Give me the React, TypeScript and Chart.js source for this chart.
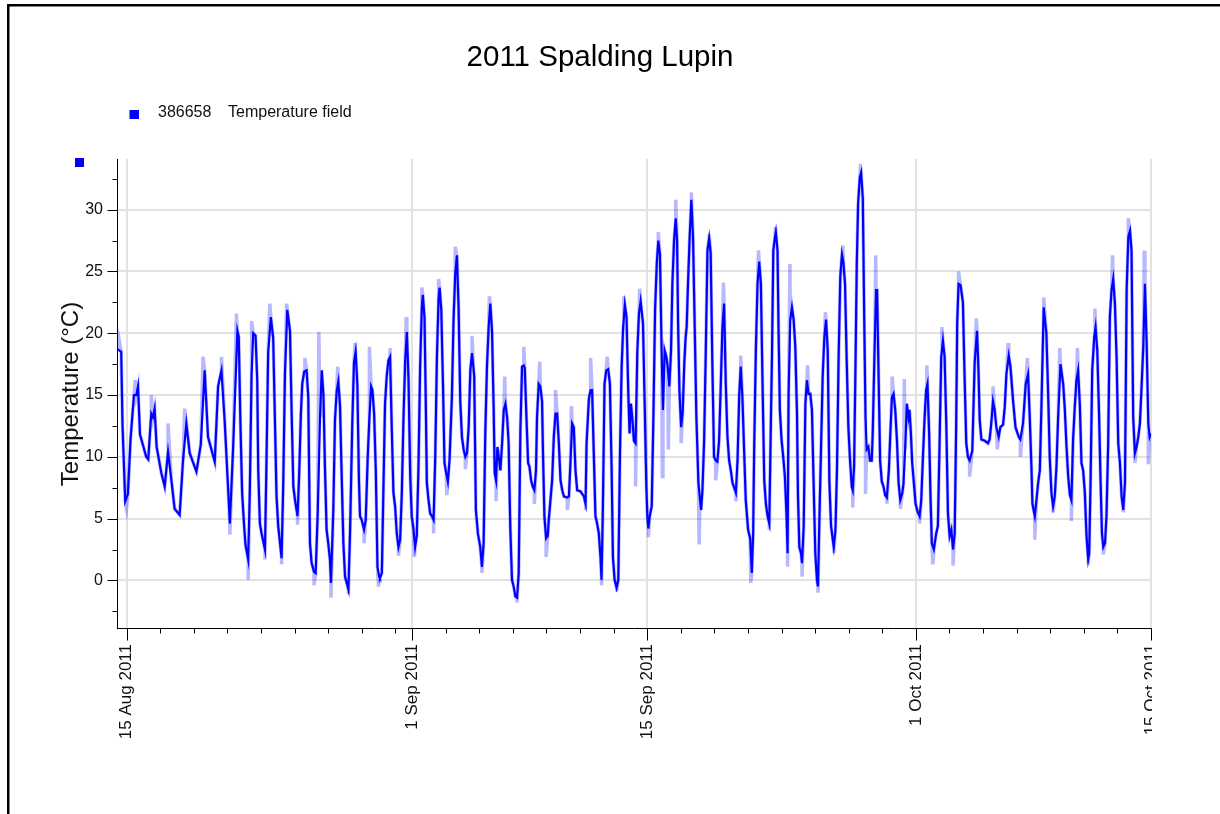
import React, { useEffect, useRef } from "react";
import { Chart, registerables } from "chart.js";

Chart.register(...registerables);

const TITLE = "2011 Spalding Lupin";
const SERIES_ID = "386658";
const SERIES_NAME = "Temperature field";
const Y_TITLE = "Temperature (°C)";

// x values are days since 15 Aug 2011 00:00
const majorTickDays = [0, 17, 31, 47, 61];
const majorTickLabels = ["15 Aug 2011", "1 Sep 2011", "15 Sep 2011", "1 Oct 2011", "15 Oct 2011"];
const minorTickDays = [2, 4, 6, 8, 10, 12, 14, 16, 19, 21, 23, 25, 27, 29, 33, 35, 37, 39, 41, 43, 45, 49, 51, 53, 55, 57, 59];
const yLabelValues = [0, 5, 10, 15, 20, 25, 30];
const yMinorValues = [-2.5, 2.5, 7.5, 12.5, 17.5, 22.5, 27.5, 32.5];

// smoothed (hourly) temperature: [day, °C]
const temperatureMain: [number, number][] = [
  [-0.52, 18.7], [-0.32, 18.5], [-0.24, 12.5], [-0.08, 6.4], [0.08, 7.0], [0.24, 11.5], [0.44, 15.0], [0.58, 15.0], [0.68, 15.7], [0.8, 11.8],
  [1.17, 10.0], [1.29, 9.8], [1.47, 13.5], [1.57, 13.2], [1.67, 13.9], [1.79, 10.8], [2.07, 8.7], [2.27, 7.6], [2.47, 10.4], [2.67, 8.1],
  [2.86, 5.8], [3.16, 5.3], [3.36, 9.7], [3.56, 12.7], [3.76, 10.3], [4.16, 8.8], [4.42, 11.0], [4.65, 17.0], [4.85, 11.6], [5.25, 9.6],
  [5.45, 15.7], [5.65, 17.0], [5.85, 12.7], [6.15, 4.6], [6.34, 10.6], [6.6, 20.2], [6.68, 19.7], [6.78, 12.7], [6.88, 7.1], [7.0, 4.4],
  [7.08, 2.9], [7.24, 1.7], [7.34, 7.3], [7.44, 16.5], [7.54, 20.0], [7.68, 19.8], [7.78, 16.2], [7.84, 8.9], [7.94, 4.6], [8.04, 3.8],
  [8.24, 2.5], [8.33, 9.5], [8.43, 18.4], [8.59, 21.3], [8.73, 19.6], [8.83, 13.2], [8.93, 6.8], [9.03, 4.4], [9.23, 1.8], [9.33, 7.9],
  [9.43, 16.7], [9.57, 21.9], [9.73, 20.2], [9.83, 13.5], [9.93, 7.6], [10.03, 6.5], [10.18, 5.2], [10.28, 8.7], [10.38, 13.5], [10.46, 15.9],
  [10.58, 16.9], [10.72, 17.0], [10.82, 14.8], [10.92, 3.0], [11.02, 1.4], [11.16, 0.7], [11.26, 0.6], [11.38, 5.4], [11.52, 13.2], [11.62, 17.0],
  [11.72, 15.1], [11.81, 9.3], [11.91, 4.1], [12.01, 3.0], [12.11, 1.7], [12.17, -0.2], [12.31, 5.7], [12.41, 13.0], [12.51, 15.3], [12.61, 16.1],
  [12.71, 14.1], [12.81, 8.4], [12.91, 3.0], [13.01, 0.3], [13.11, -0.2], [13.21, -0.75], [13.31, 4.1], [13.44, 12.7], [13.54, 17.6], [13.64, 18.5],
  [13.74, 15.9], [13.84, 7.9], [13.9, 5.2], [14.0, 4.9], [14.14, 4.1], [14.24, 4.9], [14.36, 10.0], [14.46, 13.2], [14.56, 15.7], [14.64, 15.4],
  [14.74, 13.5], [14.84, 8.9], [14.94, 1.1], [15.04, 0.3], [15.09, 0.2], [15.2, 0.6], [15.29, 7.1], [15.39, 14.3], [15.49, 16.5], [15.59, 17.8],
  [15.69, 18.1], [15.79, 12.4], [15.89, 7.1], [15.99, 6.0], [16.09, 3.8], [16.19, 2.7], [16.29, 3.3], [16.39, 7.1], [16.49, 13.2], [16.59, 17.8],
  [16.69, 20.1], [16.79, 16.2], [16.89, 8.4], [16.98, 5.2], [17.08, 4.2], [17.18, 2.7], [17.28, 3.6], [17.38, 9.1], [17.48, 17.3], [17.58, 22.1],
  [17.64, 23.1], [17.74, 21.3], [17.82, 14.1], [17.88, 7.9], [17.98, 6.5], [18.08, 5.4], [18.18, 5.2], [18.28, 4.9], [18.38, 10.0], [18.48, 18.1],
  [18.58, 22.9], [18.64, 23.7], [18.74, 21.9], [18.84, 15.9], [18.93, 9.5], [19.03, 8.7], [19.13, 8.0], [19.23, 9.7], [19.37, 14.8], [19.47, 21.1],
  [19.57, 24.8], [19.67, 26.3], [19.77, 22.1], [19.87, 14.5], [19.97, 11.6], [20.07, 10.6], [20.17, 10.0], [20.27, 10.3], [20.37, 12.4], [20.47, 17.0],
  [20.57, 18.4], [20.65, 17.3], [20.7, 16.5], [20.8, 5.7], [20.92, 3.8], [21.06, 2.7], [21.16, 1.1], [21.26, 3.0], [21.36, 11.9], [21.46, 17.3],
  [21.56, 20.5], [21.66, 22.4], [21.76, 20.2], [21.86, 13.8], [21.92, 8.7], [22.0, 8.1], [22.08, 10.8], [22.16, 10.0], [22.26, 8.9], [22.36, 11.1],
  [22.46, 13.8], [22.56, 14.3], [22.66, 13.2], [22.75, 11.1], [22.85, 4.2], [22.95, 0.05], [23.05, -0.5], [23.15, -1.3], [23.25, -1.4], [23.35, 0.6],
  [23.45, 12.2], [23.55, 17.3], [23.65, 17.4], [23.71, 17.2], [23.81, 13.2], [23.91, 9.5], [23.99, 9.2], [24.09, 8.1], [24.18, 7.6], [24.28, 7.3],
  [24.38, 8.9], [24.44, 13.2], [24.54, 15.9], [24.64, 15.7], [24.74, 14.5], [24.8, 10.0], [24.88, 5.2], [24.98, 3.4], [25.08, 3.6], [25.14, 4.9],
  [25.24, 6.5], [25.34, 8.1], [25.44, 11.6], [25.54, 13.5], [25.64, 13.5], [25.74, 11.1], [25.84, 8.1], [25.94, 7.3], [26.04, 6.8], [26.24, 6.7],
  [26.34, 6.8], [26.43, 9.5], [26.53, 12.7], [26.63, 12.4], [26.73, 8.9], [26.83, 7.3], [27.03, 7.2], [27.23, 6.8], [27.33, 6.2], [27.39, 11.1],
  [27.53, 14.7], [27.63, 15.4], [27.72, 15.4], [27.82, 10.3], [27.92, 5.2], [28.02, 4.6], [28.12, 3.8], [28.22, 1.9], [28.28, 0.05], [28.36, 5.7],
  [28.46, 15.9], [28.56, 17.0], [28.68, 17.1], [28.78, 15.9], [28.88, 9.2], [28.96, 1.9], [29.06, 0.05], [29.18, -0.6], [29.28, 0.05], [29.38, 10.3],
  [29.48, 17.3], [29.57, 20.5], [29.67, 22.3], [29.77, 21.3], [29.87, 15.4], [29.95, 11.9], [30.03, 14.3], [30.11, 13.2], [30.21, 11.3], [30.31, 11.1],
  [30.41, 18.4], [30.51, 21.6], [30.61, 22.6], [30.75, 20.8], [30.85, 14.3], [30.95, 7.6], [31.01, 5.2], [31.07, 4.2], [31.15, 5.2], [31.27, 6.0],
  [31.37, 13.2], [31.47, 21.9], [31.57, 25.6], [31.66, 27.5], [31.76, 26.4], [31.86, 18.6], [31.94, 13.8], [32.04, 18.6], [32.14, 18.1], [32.22, 17.3],
  [32.32, 15.7], [32.42, 18.6], [32.5, 24.0], [32.6, 27.5], [32.7, 29.3], [32.78, 27.5], [32.84, 20.8], [32.92, 15.4], [33.02, 12.4], [33.11, 13.5],
  [33.21, 17.6], [33.29, 19.7], [33.35, 20.5], [33.43, 24.0], [33.53, 27.8], [33.63, 30.8], [33.73, 27.8], [33.83, 20.5], [33.93, 13.2], [34.05, 7.9],
  [34.15, 6.5], [34.21, 5.7], [34.29, 7.3], [34.39, 11.3], [34.49, 18.6], [34.59, 26.7], [34.69, 27.7], [34.78, 26.5], [34.88, 17.6], [34.98, 10.0],
  [35.08, 9.7], [35.18, 9.6], [35.28, 11.3], [35.38, 15.7], [35.48, 20.5], [35.58, 22.4], [35.68, 15.9], [35.78, 11.6], [35.88, 9.7], [35.98, 8.9],
  [36.08, 7.9], [36.28, 7.1], [36.38, 9.7], [36.48, 15.0], [36.57, 17.3], [36.67, 14.8], [36.77, 10.6], [36.87, 6.5], [37.01, 4.1], [37.13, 3.4],
  [37.23, 0.6], [37.31, 3.8], [37.37, 10.6], [37.47, 18.6], [37.57, 24.0], [37.67, 25.8], [37.77, 24.0], [37.87, 15.9], [37.97, 8.1], [38.07, 6.2],
  [38.17, 5.2], [38.27, 4.6], [38.37, 13.2], [38.43, 18.1], [38.51, 26.7], [38.61, 27.8], [38.66, 28.2], [38.76, 26.7], [38.82, 20.5], [38.9, 13.8],
  [39.0, 11.4], [39.1, 10.0], [39.2, 8.4], [39.3, 5.2], [39.36, 2.2], [39.42, 15.1], [39.52, 21.1], [39.62, 22.1], [39.72, 21.1], [39.82, 18.9],
  [39.92, 13.5], [39.98, 6.8], [40.06, 2.7], [40.16, 2.2], [40.22, 1.4], [40.32, 4.4], [40.42, 14.3], [40.51, 16.2], [40.61, 15.1], [40.71, 15.1],
  [40.81, 13.8], [40.91, 7.9], [41.01, 2.2], [41.11, 0.05], [41.17, -0.5], [41.25, 4.6], [41.35, 10.6], [41.45, 16.5], [41.55, 19.7], [41.65, 21.1],
  [41.75, 18.6], [41.85, 7.9], [41.95, 4.4], [42.05, 3.3], [42.11, 2.7], [42.21, 4.1], [42.3, 8.9], [42.4, 18.1], [42.5, 24.6], [42.6, 26.4],
  [42.68, 25.8], [42.78, 24.0], [42.88, 17.8], [42.98, 12.4], [43.08, 9.7], [43.18, 7.6], [43.24, 7.3], [43.32, 9.2], [43.4, 17.0], [43.48, 25.6],
  [43.56, 30.5], [43.66, 32.6], [43.74, 33.0], [43.84, 30.9], [43.92, 21.6], [44.0, 13.2], [44.07, 10.6], [44.17, 10.8], [44.27, 9.7], [44.37, 9.7],
  [44.43, 11.9], [44.53, 18.1], [44.63, 23.5], [44.69, 23.5], [44.77, 17.3], [44.87, 9.7], [44.97, 8.0], [45.07, 7.6], [45.17, 6.9], [45.27, 6.7],
  [45.39, 8.9], [45.47, 11.6], [45.57, 14.8], [45.67, 15.1], [45.77, 13.8], [45.87, 11.4], [45.97, 7.9], [46.07, 6.5], [46.18, 7.0], [46.26, 7.8],
  [46.36, 10.6], [46.46, 14.3], [46.56, 13.2], [46.62, 13.8], [46.7, 12.0], [46.78, 9.5], [46.88, 7.9], [46.98, 6.2], [47.12, 5.5], [47.22, 5.2],
  [47.32, 6.5], [47.42, 10.0], [47.52, 13.2], [47.61, 15.4], [47.69, 15.9], [47.79, 11.9], [47.87, 6.8], [47.95, 3.0], [48.07, 2.5], [48.21, 3.8],
  [48.31, 4.4], [48.41, 11.1], [48.51, 18.1], [48.61, 19.4], [48.71, 18.1], [48.81, 12.7], [48.91, 5.4], [49.01, 3.6], [49.11, 4.1], [49.21, 2.5],
  [49.31, 3.8], [49.4, 12.7], [49.46, 20.8], [49.54, 24.0], [49.66, 23.9], [49.8, 22.5], [49.9, 16.5], [50.0, 11.1], [50.1, 10.0], [50.2, 9.7],
  [50.36, 10.5], [50.5, 17.6], [50.64, 20.2], [50.72, 17.3], [50.8, 13.0], [50.9, 11.4], [51.1, 11.3], [51.29, 11.1], [51.39, 11.4], [51.49, 12.7],
  [51.59, 14.5], [51.69, 13.8], [51.79, 12.4], [51.93, 11.6], [52.03, 12.4], [52.19, 12.6], [52.29, 14.0], [52.39, 16.7], [52.53, 18.2], [52.63, 17.3],
  [52.79, 14.5], [52.93, 12.4], [53.13, 11.6], [53.22, 11.4], [53.38, 12.7], [53.54, 15.9], [53.68, 16.7], [53.78, 13.2], [53.88, 9.2], [53.94, 6.2],
  [54.08, 5.2], [54.18, 6.5], [54.28, 7.9], [54.38, 8.9], [54.48, 14.3], [54.61, 22.1], [54.77, 20.0], [54.87, 15.4], [54.97, 10.0], [55.07, 7.1],
  [55.17, 6.0], [55.27, 6.8], [55.37, 9.2], [55.47, 13.2], [55.61, 17.5], [55.77, 15.9], [55.87, 13.8], [55.97, 10.8], [56.07, 8.4], [56.17, 6.9],
  [56.26, 6.5], [56.36, 11.4], [56.46, 14.0], [56.56, 16.2], [56.66, 17.0], [56.76, 14.3], [56.86, 9.5], [56.96, 8.9], [57.06, 7.1], [57.16, 3.6],
  [57.26, 1.7], [57.32, 2.2], [57.4, 7.9], [57.5, 17.0], [57.62, 19.7], [57.7, 20.5], [57.8, 18.6], [57.9, 13.8], [58.0, 7.9], [58.08, 3.8],
  [58.16, 2.7], [58.26, 3.0], [58.35, 5.2], [58.45, 11.1], [58.55, 21.3], [58.65, 23.5], [58.75, 24.4], [58.85, 22.4], [58.95, 18.1], [59.05, 11.1],
  [59.15, 9.5], [59.25, 6.8], [59.35, 5.7], [59.45, 7.9], [59.55, 23.5], [59.65, 27.8], [59.75, 28.3], [59.84, 26.7], [59.94, 13.2], [60.04, 10.3],
  [60.14, 10.8], [60.24, 11.6], [60.34, 12.7], [60.44, 15.7], [60.54, 18.9], [60.64, 24.0], [60.74, 19.2], [60.84, 12.7], [60.92, 11.6], [61.0, 11.9],
];

// raw readings that overshoot the smoothed trace (pale line): [day, °C]
const temperatureRawExtremes: [number, number][] = [
  [-0.45, 19.5], [0.0, 5.8], [0.52, 16.2], [1.47, 15.0], [2.47, 12.7], [3.46, 13.9], [4.55, 18.1], [5.65, 18.1], [6.15, 3.7], [6.54, 21.6],
  [7.24, 0.05], [7.44, 21.0], [8.24, 1.7], [8.53, 22.4], [9.23, 1.3], [9.53, 22.4], [10.18, 4.5], [10.62, 18.0], [11.16, -0.4], [11.45, 20.1],
  [12.17, -1.4], [12.57, 17.3], [13.21, -1.1], [13.6, 19.2], [14.14, 3.0], [14.46, 18.9], [15.0, -0.5], [15.69, 18.8], [16.19, 2.0], [16.65, 21.3],
  [17.14, 1.9], [17.58, 23.7], [18.28, 3.8], [18.58, 24.4], [19.07, 6.9], [19.57, 27.0], [20.17, 9.0], [20.57, 19.8], [21.16, 0.6], [21.6, 23.0],
  [22.0, 6.4], [22.52, 16.5], [23.25, -1.8], [23.65, 18.9], [24.28, 6.2], [24.6, 17.7], [24.98, 1.9], [25.54, 15.4], [26.24, 5.7], [26.49, 14.1],
  [27.33, 5.7], [27.63, 18.0], [28.28, -0.4], [28.62, 18.1], [29.18, -0.9], [29.61, 23.0], [30.31, 7.6], [30.55, 23.6], [31.07, 3.5], [31.66, 28.2],
  [31.9, 8.4], [32.26, 10.6], [32.7, 30.8], [33.02, 11.1], [33.63, 31.4], [34.09, 2.9], [34.69, 28.0], [35.08, 8.1], [35.54, 24.1], [36.28, 6.4],
  [36.57, 18.2], [37.17, -0.2], [37.63, 26.7], [38.27, 4.1], [38.63, 28.6], [39.36, 1.1], [39.5, 25.6], [40.22, 0.3], [40.55, 17.4], [41.17, -1.0],
  [41.61, 21.7], [42.11, 2.2], [42.65, 27.1], [43.24, 5.9], [43.7, 33.7], [44.0, 7.0], [44.61, 26.3], [45.27, 6.2], [45.59, 16.5], [46.08, 5.8],
  [46.31, 16.3], [47.22, 4.6], [47.65, 17.4], [48.01, 1.3], [48.55, 20.5], [49.21, 1.2], [49.54, 25.0], [50.2, 8.4], [50.6, 21.2], [51.59, 15.7],
  [51.85, 10.6], [52.49, 19.2], [53.22, 10.0], [53.64, 18.0], [54.08, 3.3], [54.61, 22.9], [55.17, 5.5], [55.57, 18.8], [56.26, 4.8], [56.62, 18.8],
  [57.26, 1.3], [57.66, 22.0], [58.16, 2.1], [58.71, 26.3], [59.35, 5.5], [59.65, 29.3], [60.04, 9.5], [60.6, 26.7], [60.84, 9.4],
];

const FONT = "'Liberation Sans', Arial, Helvetica, sans-serif";

const decorPlugin = {
  id: "decor",
  afterDraw(chart: any) {
    const ctx: CanvasRenderingContext2D = chart.ctx;
    const xs = chart.scales.x;
    const ys = chart.scales.y;
    const { left, bottom } = chart.chartArea;
    ctx.save();

    // outer frame
    ctx.fillStyle = "#000";
    ctx.fillRect(7, 4, 1213, 2.5);
    ctx.fillRect(7, 4, 2.5, 810);

    // title
    ctx.fillStyle = "#000";
    ctx.font = `29.5px ${FONT}`;
    ctx.textAlign = "center";
    ctx.textBaseline = "alphabetic";
    ctx.fillText(TITLE, 600, 66);

    // legend
    ctx.fillStyle = "#0000ff";
    ctx.fillRect(129.5, 110, 9.5, 9);
    ctx.fillRect(75, 158, 9, 9);
    ctx.fillStyle = "#111";
    ctx.font = `16px ${FONT}`;
    ctx.textAlign = "left";
    ctx.fillText(SERIES_ID, 158, 117);
    ctx.fillText(SERIES_NAME, 228, 117);

    // y title
    ctx.save();
    ctx.translate(71, 394);
    ctx.rotate(-Math.PI / 2);
    ctx.font = `24px ${FONT}`;
    ctx.textAlign = "center";
    ctx.textBaseline = "middle";
    ctx.fillStyle = "#111";
    ctx.fillText(Y_TITLE, 0, 0);
    ctx.restore();

    // tick marks
    ctx.strokeStyle = "#000";
    ctx.lineWidth = 1;
    ctx.beginPath();
    const axisX = Math.round(left) + 0.5;
    yLabelValues.forEach((v) => {
      const y = Math.round(ys.getPixelForValue(v)) + 0.5;
      ctx.moveTo(axisX - 10, y);
      ctx.lineTo(axisX, y);
    });
    yMinorValues.forEach((v) => {
      const y = Math.round(ys.getPixelForValue(v)) + 0.5;
      ctx.moveTo(axisX - 5, y);
      ctx.lineTo(axisX, y);
    });
    const axisY = Math.round(bottom) + 0.5;
    majorTickDays.forEach((d) => {
      const x = Math.round(xs.getPixelForValue(d)) + 0.5;
      ctx.moveTo(x, axisY);
      ctx.lineTo(x, axisY + 12);
    });
    minorTickDays.forEach((d) => {
      const x = Math.round(xs.getPixelForValue(d)) + 0.5;
      ctx.moveTo(x, axisY);
      ctx.lineTo(x, axisY + 5);
    });
    ctx.stroke();

    // x labels (rotated), clipped at the right like the original
    ctx.save();
    ctx.beginPath();
    ctx.rect(0, 0, 1152, 814);
    ctx.clip();
    ctx.font = `17px ${FONT}`;
    ctx.fillStyle = "#111";
    ctx.textAlign = "right";
    ctx.textBaseline = "middle";
    majorTickDays.forEach((d, i) => {
      const x = xs.getPixelForValue(d);
      ctx.save();
      ctx.translate(x, bottom + 16);
      ctx.rotate(-Math.PI / 2);
      ctx.fillText(majorTickLabels[i], 0, 0);
      ctx.restore();
    });
    ctx.restore();

    ctx.restore();
  },
};

export default function App() {
  const ref = useRef<HTMLCanvasElement | null>(null);

  useEffect(() => {
    if (!ref.current) return;
    const mainPts = temperatureMain.map(([x, y]) => ({ x, y }));
    const rawPts = [...temperatureMain, ...temperatureRawExtremes]
      .slice()
      .sort((a, b) => a[0] - b[0])
      .map(([x, y]) => ({ x, y }));

    const chart = new Chart(ref.current, {
      type: "line",
      data: {
        datasets: [
          {
            label: SERIES_NAME,
            data: mainPts,
            borderColor: "#0000ff",
            borderWidth: 2.2,
            pointRadius: 0,
            tension: 0,
            order: 0,
          },
          {
            label: SERIES_NAME + " raw",
            data: rawPts,
            borderColor: "rgba(0,0,255,0.28)",
            borderWidth: 3.5,
            pointRadius: 0,
            tension: 0,
            order: 1,
          },
        ],
      },
      options: {
        animation: false,
        responsive: false,
        layout: { padding: { left: 0, top: 159, right: 69, bottom: 0 } },
        plugins: {
          legend: { display: false },
          tooltip: { enabled: false },
          title: { display: false },
        },
        scales: {
          x: {
            type: "linear",
            min: -0.57,
            max: 61,
            afterBuildTicks: (scale: any) => {
              scale.ticks = majorTickDays.map((v) => ({ value: v }));
            },
            afterFit: (scale: any) => {
              scale.height = 814 - 628;
            },
            ticks: { display: false },
            grid: { color: "#e2e2e2", lineWidth: 2, drawTicks: false },
            border: { display: true, color: "#000", width: 1 },
          },
          y: {
            type: "linear",
            min: -3.85,
            max: 34.1,
            afterBuildTicks: (scale: any) => {
              scale.ticks = yLabelValues.map((v) => ({ value: v }));
            },
            afterFit: (scale: any) => {
              scale.width = 117;
            },
            ticks: {
              padding: 14,
              color: "#111",
              font: { family: FONT, size: 16 },
            },
            grid: { color: "#e2e2e2", lineWidth: 2, drawTicks: false },
            border: { display: true, color: "#000", width: 1 },
          },
        },
      },
      plugins: [decorPlugin],
    } as any);

    return () => chart.destroy();
  }, []);

  return (
    <div style={{ position: "absolute", left: 0, top: 0, width: 1220, height: 814, background: "#fff" }}>
      <canvas ref={ref} width={1220} height={814} style={{ display: "block", width: 1220, height: 814 }} />
    </div>
  );
}
